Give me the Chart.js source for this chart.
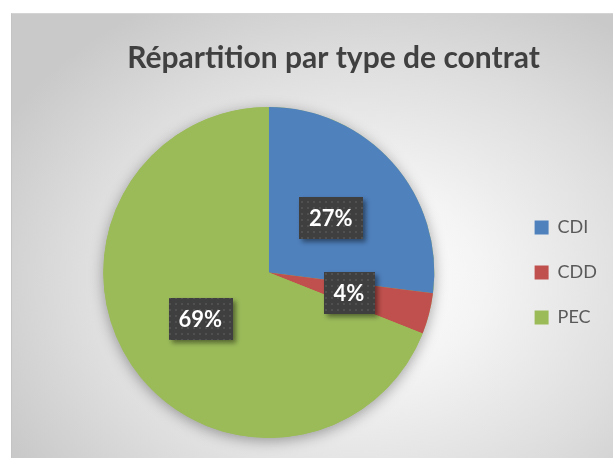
<!DOCTYPE html>
<html>
<head>
<meta charset="utf-8">
<script src="https://cdn.jsdelivr.net/npm/chart.js@4.4.1/dist/chart.umd.min.js"></script>
<style>
  html, body { margin: 0; padding: 0; background: #ffffff; overflow: hidden; }
  #frame {
    position: absolute;
    left: 11px;
    top: 13px;
    width: 602px;
    height: 445px;
    overflow: hidden;
    background: radial-gradient(ellipse 68% 72% at 58% 60%, #ffffff 0%, #f4f4f4 30%, #dddddd 70%, #c9c9c9 100%);
    border-left: 1px solid #c4c4c4;
    border-top: 1px solid #d4d4d4;
    box-sizing: border-box;
  }
  #chart-wrap { position: absolute; left: -1px; top: -1px; width: 640px; height: 445px; }
</style>
</head>
<body>
<div id="frame">
  <div id="chart-wrap"><canvas id="contract-chart"></canvas></div>
</div>
<script>
const contractTypes = ["CDI", "CDD", "PEC"];
const contractShares = [27, 4, 69];
const sliceColors = ["#4F81BD", "#C0504D", "#9BBB59"];

const fontFamily = "Lato, 'Open Sans', sans-serif";
const labelFont = "bold 22px " + fontFamily;

function makeDotPattern(ctx) {
  const tile = document.createElement("canvas");
  tile.width = 6;
  tile.height = 6;
  const t = tile.getContext("2d");
  t.fillStyle = "#3f3f3f";
  t.fillRect(0, 0, 6, 6);
  t.fillStyle = "#505050";
  t.fillRect(2, 2, 2, 2);
  return ctx.createPattern(tile, "repeat");
}

// empty box on the far right so the legend sits left of the title's right edge
const legendSpacer = {
  id: "legendSpacer",
  beforeInit(chart) {
    Chart.layouts.addBox(chart, {
      position: "right",
      weight: 2000,
      fullSize: false,
      options: {},
      width: 0,
      height: 0,
      isHorizontal() {
        return false;
      },
      update(maxWidth, maxHeight) {
        this.width = 30;
        this.height = maxHeight;
      },
      draw() {}
    });
  }
};

// soft shadow under the whole pie
const pieShadow = {
  id: "pieShadow",
  beforeDatasetsDraw(chart) {
    const arc = chart.getDatasetMeta(0).data[0];
    if (!arc) return;
    const ctx = chart.ctx;
    ctx.save();
    ctx.shadowColor = "rgba(0, 0, 0, 0.35)";
    ctx.shadowBlur = 14;
    ctx.shadowOffsetY = 3;
    ctx.fillStyle = sliceColors[2];
    ctx.beginPath();
    ctx.arc(arc.x, arc.y, arc.outerRadius, 0, Math.PI * 2);
    ctx.fill();
    ctx.restore();
  }
};

// dark percent boxes in the middle of each slice
const sliceLabels = {
  id: "sliceLabels",
  afterDatasetsDraw(chart) {
    const ctx = chart.ctx;
    const pattern = makeDotPattern(ctx);
    const total = contractShares.reduce((sum, v) => sum + v, 0);
    chart.getDatasetMeta(0).data.forEach((arc, i) => {
      const pos = arc.tooltipPosition();
      const text = Math.round((contractShares[i] / total) * 100) + "%";
      ctx.save();
      ctx.font = labelFont;
      const w = ctx.measureText(text).width + 20;
      const h = 42;
      ctx.shadowColor = "rgba(0, 0, 0, 0.45)";
      ctx.shadowBlur = 5;
      ctx.shadowOffsetX = 3;
      ctx.shadowOffsetY = 3;
      ctx.fillStyle = pattern;
      ctx.fillRect(Math.round(pos.x - w / 2), Math.round(pos.y - h / 2), Math.round(w), h);
      ctx.shadowColor = "transparent";
      ctx.fillStyle = "#ffffff";
      ctx.textAlign = "center";
      ctx.textBaseline = "middle";
      ctx.fillText(text, pos.x, pos.y + 1);
      ctx.restore();
    });
  }
};

new Chart(document.getElementById("contract-chart"), {
  type: "pie",
  data: {
    labels: contractTypes,
    datasets: [
      {
        data: contractShares,
        backgroundColor: sliceColors,
        borderWidth: 0,
        hoverOffset: 0
      }
    ]
  },
  options: {
    responsive: true,
    maintainAspectRatio: false,
    animation: false,
    layout: {
      padding: { left: 19, right: 14, top: 0, bottom: 20 }
    },
    plugins: {
      title: {
        display: true,
        text: "Répartition par type de contrat",
        color: "#404040",
        font: { family: fontFamily, size: 30, weight: "bold" },
        padding: { top: 27, bottom: 31 }
      },
      legend: {
        position: "right",
        fullSize: false,
        labels: {
          boxWidth: 14,
          boxHeight: 14,
          padding: 27,
          color: "#595959",
          font: { family: fontFamily, size: 18 }
        }
      },
      tooltip: { enabled: false }
    }
  },
  plugins: [legendSpacer, pieShadow, sliceLabels]
});
</script>
</body>
</html>
